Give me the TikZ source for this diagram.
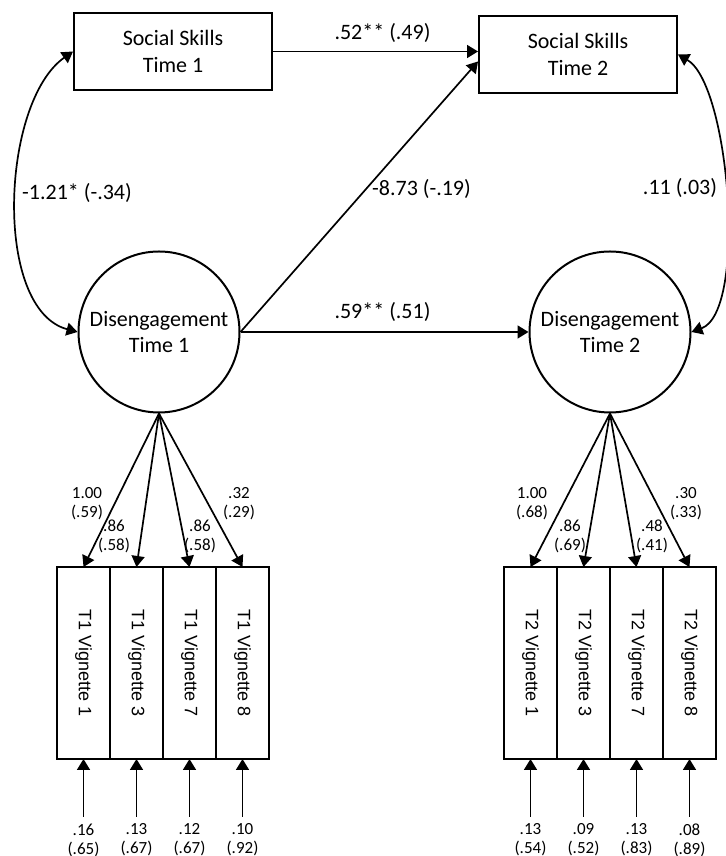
\documentclass[tikz,border=0pt]{standalone}
\usepackage{graphicx}
\usepackage{fontspec}
\setmainfont{Carlito}
\newfontfamily\vigfont{Liberation Sans}
\usetikzlibrary{positioning,arrows.meta}

\newcommand{\vigtext}[1]{\rotatebox{-90}{\vigfont\fontsize{9}{10}\selectfont #1}}

\tikzset{
  obs/.style={draw, line width=1pt, minimum width=99pt, minimum height=38.5pt, align=center, font=\fontsize{11}{13.5}\selectfont},
  lat/.style={draw, line width=1pt, circle, minimum size=80.5pt, inner sep=0pt, align=center, font=\fontsize{11}{13}\selectfont},
  vig/.style={draw, line width=1pt, minimum width=26.5pt, minimum height=96pt, inner sep=0pt, outer sep=0pt},
  coef/.style={font=\fontsize{11}{13}\selectfont},
  load/.style={align=center, inner sep=3pt, font=\fontsize{8.5}{9.5}\selectfont}
}

\begin{document}
\begin{tikzpicture}[x=0.5pt,y=0.5pt,line width=0.85pt,>={Triangle[length=5.5pt,width=6.5pt]}]
      \useasboundingbox (0,0) rectangle (726,856);
      \node[obs] (ss_1) at (173,804.5) {Social Skills\\Time 1};
      \node[obs] (ss_2) at (578,801.5) {Social Skills\\Time 2};
      \node[lat] (d_1) at (159,524) {Disengagement\\Time 1};
      \node[lat] (d_2) at (610,524) {Disengagement\\Time 2};

      % time 1 vignettes
      \node[vig] (t1_1) at (83.5,193) {\vigtext{T1 Vignette 1}};
      \node[vig] (t1_3) [right=0pt of t1_1] {\vigtext{T1 Vignette 3}};
      \node[vig] (t1_7) [right=0pt of t1_3] {\vigtext{T1 Vignette 7}};
      \node[vig] (t1_8) [right=0pt of t1_7] {\vigtext{T1 Vignette 8}};
      % time 2 vignettes
      \node[vig] (t2_1) at (530.5,193) {\vigtext{T2 Vignette 1}};
      \node[vig] (t2_3) [right=0pt of t2_1] {\vigtext{T2 Vignette 3}};
      \node[vig] (t2_7) [right=0pt of t2_3] {\vigtext{T2 Vignette 7}};
      \node[vig] (t2_8) [right=0pt of t2_7] {\vigtext{T2 Vignette 8}};

      \node[load] (e1_1) [below=29pt of t1_1] {.16\\(.65)};
      \node[load] (e1_3) [below=29pt of t1_3] {.13\\(.67)};
      \node[load] (e1_7) [below=29pt of t1_7] {.12\\(.67)};
      \node[load] (e1_8) [below=29pt of t1_8] {.10\\(.92)};
      \node[load] (e2_1) [below=29pt of t2_1] {.13\\(.54)};
      \node[load] (e2_3) [below=29pt of t2_3] {.09\\(.52)};
      \node[load] (e2_7) [below=29pt of t2_7] {.13\\(.83)};
      \node[load] (e2_8) [below=29pt of t2_8] {.08\\(.89)};

      \node[load] (w1_1) at (87,352.5) {1.00\\(.59)};
      \node[load] (w1_3) at (114,319.5) {.86\\(.58)};
      \node[load] (w1_7) at (200,319.5) {.86\\(.58)};
      \node[load] (w1_8) at (239,352.5) {.32\\(.29)};
      \node[load] (w2_1) at (532,352.5) {1.00\\(.68)};
      \node[load] (w2_3) at (570,319.5) {.86\\(.69)};
      \node[load] (w2_7) at (652,319.5) {.48\\(.41)};
      \node[load] (w2_8) at (686,352.5) {.30\\(.33)};

      \node[coef] (b_ss) at (382.5,823) {.52** (.49)};
      \node[coef] (b_x) at (421.5,667) {-8.73 (-.19)};
      \node[coef] (b_dd) at (382.5,544) {.59** (.51)};
      \node[coef] (r_1) at (77,663) {-1.21* (-.34)};
      \node[coef] (r_2) at (680,668) {.11 (.03)};

        \path[->]
        (ss_1.east) edge (ss_1.east -| ss_2.west)
        (d_1.east) edge (ss_2.184)
        (d_1.east) edge (d_2.west)
        (d_1.south) edge (t1_1.north) edge (t1_3.north) edge (t1_7.north) edge (t1_8.north)
        (d_2.south) edge (t2_1.north) edge (t2_3.north) edge (t2_7.north) edge (t2_8.north)
        (e1_1) edge (t1_1) (e1_3) edge (t1_3) (e1_7) edge (t1_7) (e1_8) edge (t1_8)
        (e2_1) edge (t2_1) (e2_3) edge (t2_3) (e2_7) edge (t2_7) (e2_8) edge (t2_8);
        \path[<->]
        (ss_1.west) edge [out=215,in=165,looseness=0.8] (d_1.west)
        (ss_2.east) edge [out=-30,in=20,looseness=0.55] (d_2.east);
    \end{tikzpicture}
\end{document}
